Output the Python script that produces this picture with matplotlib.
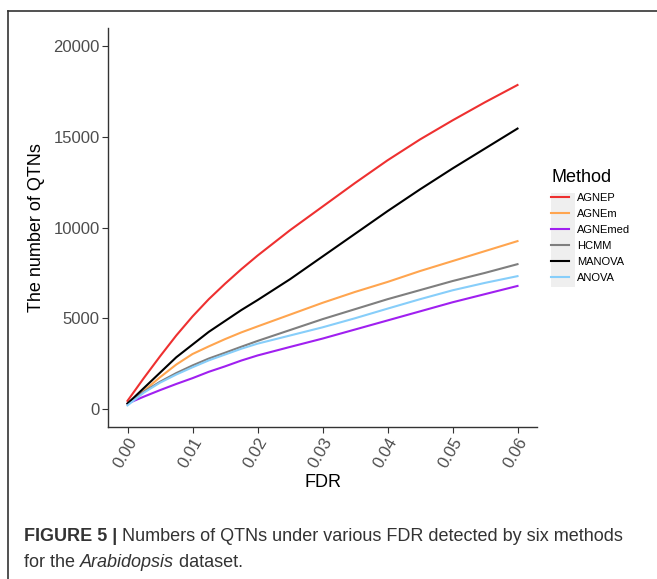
import matplotlib
matplotlib.use("Agg")
import matplotlib.pyplot as plt
from matplotlib.lines import Line2D
from matplotlib.patches import Rectangle

plt.rcParams["font.family"] = ["Liberation Sans", "DejaVu Sans"]

# FDR grid and QTN counts
fdr = [0.0, 0.0025, 0.005, 0.0075, 0.01, 0.0125, 0.015, 0.0175, 0.02,
       0.025, 0.03, 0.035, 0.04, 0.045, 0.05, 0.055, 0.06]
agnep = [450, 1700, 2900, 4050, 5100, 6050, 6900, 7700, 8450,
         9850, 11150, 12450, 13700, 14850, 15900, 16900, 17850]
agnem = [300, 1000, 1750, 2450, 3030, 3450, 3850, 4220, 4550,
         5200, 5850, 6450, 7000, 7600, 8150, 8700, 9250]
agnemed = [300, 680, 1040, 1380, 1700, 2050, 2350, 2670, 2950,
           3420, 3880, 4380, 4880, 5380, 5880, 6330, 6780]
hcmm = [300, 950, 1500, 1980, 2400, 2780, 3100, 3430, 3750,
        4350, 4950, 5500, 6050, 6550, 7050, 7500, 7980]
manova = [300, 1150, 2000, 2850, 3550, 4250, 4850, 5450, 6000,
          7150, 8400, 9650, 10900, 12100, 13250, 14350, 15450]
anova = [200, 900, 1450, 1900, 2300, 2680, 3000, 3320, 3600,
         4050, 4500, 5000, 5530, 6050, 6540, 6950, 7320]

methods = ["AGNEP", "AGNEm", "AGNEmed", "HCMM", "MANOVA", "ANOVA"]
series = [agnep, agnem, agnemed, hcmm, manova, anova]
colors = ["#EE3030", "#FFA54F", "#A020F0", "#7F7F7F", "#000000", "#87CEFA"]

W, H = 657, 579
fig = plt.figure(figsize=(W / 100, H / 100), dpi=100)
ax = fig.add_axes([108 / W, 1 - 427 / H, (537 - 108) / W, (427 - 28) / H])

for name, vals, col in zip(methods, series, colors):
    ax.plot(fdr, vals, color=col, lw=1.5, label=name,
            solid_joinstyle="round")

ax.set_xlim(-0.003, 0.063)
ax.set_ylim(-990, 20990)
ax.set_xticks([0.0, 0.01, 0.02, 0.03, 0.04, 0.05, 0.06])
ax.set_xticklabels(["0.00", "0.01", "0.02", "0.03", "0.04", "0.05", "0.06"],
                   rotation=60, ha="right", rotation_mode="anchor")
ax.set_yticks([0, 5000, 10000, 15000, 20000])
ax.set_yticklabels(["0", "5000", "10000", "15000", "20000"])
ax.tick_params(colors="#333333", labelcolor="#4d4d4d", labelsize=12,
               length=4, width=0.8, pad=2)
for s in ["top", "right"]:
    ax.spines[s].set_visible(False)
for s in ["left", "bottom"]:
    ax.spines[s].set_color("#333333")
    ax.spines[s].set_linewidth(1.0)

ax.set_xlabel("FDR", fontsize=13, color="#000000", labelpad=2)
ax.set_ylabel("The number of QTNs", fontsize=13, color="#000000", labelpad=6)

# legend
fig.add_artist(Rectangle((551 / W, 1 - 287 / H), 24 / W, 94 / H,
                         transform=fig.transFigure, facecolor="#EFEFEF",
                         edgecolor="none", zorder=0))
leg = fig.legend(loc="upper left", bbox_to_anchor=(547 / W, 1 - 165 / H),
                 frameon=False, fontsize=8, title="Method",
                 title_fontsize=13, handlelength=1.6, handletextpad=0.7,
                 labelspacing=0.55, borderaxespad=0)
leg._legend_box.align = "left"

# frame around figure
fig.add_artist(Line2D([8 / W, 1], [1 - 11 / H, 1 - 11 / H],
                      transform=fig.transFigure, color="#333333", lw=1.2))
fig.add_artist(Line2D([8 / W, 8 / W], [0, 1 - 11 / H],
                      transform=fig.transFigure, color="#333333", lw=1.2))

# caption
cap_col = "#333333"
fig.canvas.draw()
renderer = fig.canvas.get_renderer()


def put_line(pieces, x0, y0):
    x = x0
    for txt, weight, style in pieces:
        t = fig.text(x / W, 1 - y0 / H, txt, fontsize=13, color=cap_col,
                     fontweight=weight, fontstyle=style, va="baseline",
                     ha="left")
        bb = t.get_window_extent(renderer=renderer)
        x += bb.width


put_line([("FIGURE 5 | ", "bold", "normal"),
          ("Numbers of QTNs under various FDR detected by six methods",
           "normal", "normal")], 24, 541)
put_line([("for the ", "normal", "normal"),
          ("Arabidopsis", "normal", "italic"),
          (" dataset.", "normal", "normal")], 24, 567)

fig.savefig("out.png", dpi=100)
